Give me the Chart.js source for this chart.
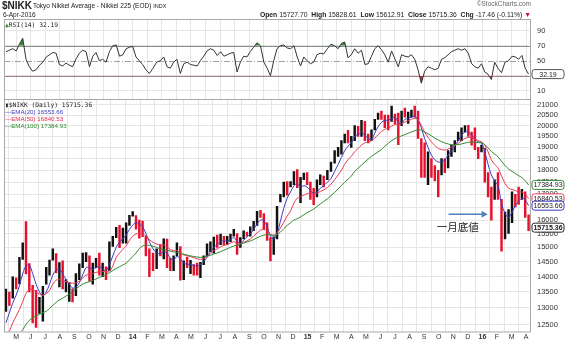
<!DOCTYPE html>
<html lang="ja">
<head>
<meta charset="UTF-8" />
<title>$NIKK Tokyo Nikkei Average</title>
<script src="https://cdn.jsdelivr.net/npm/chart.js"></script>
<style>
  body { margin: 0; background: #fff; }
  #page { position: relative; width: 565px; height: 342px; overflow: hidden; font-family: "Liberation Sans", Arial, sans-serif; color: #222; }
  canvas { position: absolute; left: 0; top: 0; }
  .t { position: absolute; white-space: nowrap; line-height: 1; }
  .mono { font-family: "DejaVu Sans Mono", monospace; }
</style>
</head>
<body>
<div id="page">
  <canvas id="rsi" width="565" height="342"></canvas>
  <canvas id="price" width="565" height="342"></canvas>

  <!-- header -->
  <div class="t" style="left:2px;top:1px;font-size:10px;font-weight:bold">$NIKK</div>
  <div class="t" style="left:33px;top:3px;font-size:6.5px">Tokyo Nikkei Average - Nikkei 225 (EOD) <span style="font-size:5.5px">INDX</span></div>
  <div class="t" style="left:3px;top:12px;font-size:6.5px">6-Apr-2016</div>
  <div class="t" style="right:34px;top:1px;font-size:6.5px;color:#666">&copy;StockCharts.com</div>
  <div class="t" style="right:34px;top:12px;font-size:6.8px"><b>Open</b> 15727.70 &nbsp;<b>High</b> 15828.61 &nbsp;<b>Low</b> 15612.91 &nbsp;<b>Close</b> 15715.36 &nbsp;<b>Chg</b> -17.46 (-0.11%) <span style="color:#c8102e">&#9660;</span></div>

  <!-- legends -->
  <div class="t mono" style="left:5px;top:22px;font-size:6.3px"><span style="color:#3d8b3d">&#9650;</span>RSI(14) 32.19</div>
  <div class="t mono" style="left:5px;top:102px;font-size:6.3px">&#9646;$NIKK (Daily) 15715.36</div>
  <div class="t" style="left:5px;top:109px;font-size:6.2px;color:#3b3bc4">&mdash;EMA(20) 16553.66</div>
  <div class="t" style="left:5px;top:116px;font-size:6.2px;color:#e03050">&mdash;EMA(50) 16840.53</div>
  <div class="t" style="left:5px;top:123px;font-size:6.2px;color:#2f8a2f">&mdash;EMA(100) 17384.93</div>
</div>

<script>
  // one bar per week, first week centred on Wed 10-Apr-2013, last on Wed 6-Apr-2016
  const firstWeek = "2013-04-10";
  const axisStart = "2013-04-06";
  const axisEnd = "2016-04-11";

  const weekHigh = [
    13590, 13500, 13990, 13960, 14650, 15160, 15942, 14440, 13710, 13550,
    13330, 13680, 14310, 14560, 14950, 14780, 14470, 14530, 13900, 13800,
    13600, 14100, 14430, 14800, 14820, 14700, 14450, 14620, 14800, 14450,
    14330, 15200, 15400, 15730, 15800, 15700, 15900, 16180, 16320, 16170,
    16000, 15960, 15400, 14950, 14800, 14950, 15100, 15310, 15300, 14620,
    14700, 15160, 15030, 14530, 14650, 14550, 14400, 14450, 14480, 14700,
    15130, 15200, 15370, 15440, 15480, 15400, 15400, 15480, 15650, 15500,
    15350, 15600, 15550, 15750, 15950, 16330, 16374, 16250, 15900, 15350,
    15380, 16530, 17000, 17500, 17520, 17520, 17940, 18030, 17700, 17880,
    17900, 17500, 17250, 17600, 17800, 17750, 18000, 18350, 18850, 19000,
    19300, 19600, 19780, 19500, 20000, 19970, 20250, 20200, 19600, 19800,
    20300, 20600, 20700, 20500, 20500, 20950, 20550, 20600, 20700, 20850,
    20650, 20750, 20950, 20700, 19400, 19200, 18800, 18500, 18200, 18000,
    18500, 18500, 18850, 19100, 19300, 19700, 19900, 20000, 20012, 19700,
    19900, 19000, 19100, 18950, 17900, 17300, 17600, 17900, 16800, 16300,
    16400, 17100, 17000, 17300, 17200, 17100, 16200
  ];
  const weekLow = [
    12890, 13080, 13300, 13600, 13760, 14580, 14090, 13500, 12550, 12415,
    12830, 12600, 13750, 14050, 14550, 14120, 13660, 13600, 13500, 13200,
    13190, 13380, 13900, 14300, 14500, 13850, 13750, 14300, 14050, 14000,
    13900, 14200, 15030, 15350, 14990, 15150, 15150, 15800, 16150, 15660,
    15330, 15380, 14700, 13995, 14200, 14260, 14700, 14600, 14300, 14200,
    14200, 14700, 13885, 13900, 14300, 14100, 14050, 14050, 13960, 14400,
    14700, 14850, 14800, 15000, 15100, 15100, 15100, 15200, 15400, 14750,
    15000, 15300, 15400, 15400, 15600, 15800, 16100, 15650, 15250, 14530,
    14750, 15300, 16700, 16900, 16970, 17300, 17400, 17270, 16670, 17600,
    17400, 16800, 16590, 16900, 17400, 17300, 17600, 17950, 18300, 18600,
    18700, 19200, 19200, 19000, 19300, 19500, 19500, 19300, 19200, 19300,
    19800, 20300, 20300, 19900, 19800, 20200, 20090, 19115, 20000, 20400,
    20100, 20400, 20400, 19400, 17700, 17700, 17400, 17700, 17550, 16900,
    17800, 17900, 18100, 18600, 18800, 19300, 19300, 19700, 19500, 19100,
    18900, 18500, 18800, 17500, 16900, 16000, 16800, 16800, 14865, 15300,
    15500, 15900, 16500, 16600, 16800, 16100, 15600
  ];
  const weekClose = [
    13485, 13317, 13884, 13694, 14608, 15138, 14612, 13774, 12877, 12686,
    13230, 13677, 14310, 14506, 14590, 14130, 14466, 13605, 13650, 13660,
    13389, 13861, 14404, 14742, 14760, 14024, 14404, 14562, 14088, 14201,
    14086, 15165, 15381, 15661, 15299, 15403, 15870, 16178, 16291, 15912,
    15734, 15391, 14914, 14462, 14313, 14865, 14841, 15274, 14327, 14224,
    14696, 15063, 13960, 14516, 14429, 14457, 14199, 14097, 14462, 14632,
    15077, 15097, 15349, 15095, 15437, 15164, 15215, 15457, 15523, 14778,
    15318, 15539, 15425, 15668, 15948, 16321, 16229, 15709, 15300, 14532,
    15291, 16413, 16880, 17490, 17357, 17459, 17920, 17371, 17621, 17818,
    17450, 17197, 16864, 17511, 17674, 17648, 17913, 18332, 18798, 18971,
    19254, 19560, 19286, 19435, 19908, 19653, 20020, 19532, 19380, 19733,
    20264, 20563, 20461, 20407, 19990, 20706, 20539, 19780, 20650, 20544,
    20585, 20724, 20519, 19436, 19136, 17792, 18264, 18070, 17880, 17725,
    18438, 18291, 18825, 19083, 19265, 19597, 19880, 19884, 19504, 19230,
    18986, 18770, 19034, 17698, 17147, 16958, 17518, 16819, 14952, 15967,
    16188, 17015, 16939, 16725, 17002, 16164, 15715.36
  ];
  const ema20 = [
    12550, 12850, 13150, 13400, 13700, 14100, 14350, 14380, 14100, 13750,
    13500, 13380, 13500, 13750, 14050, 14220, 14250, 14100, 13900, 13750,
    13630, 13650, 13800, 14050, 14300, 14300, 14250, 14300, 14330, 14250,
    14200, 14400, 14700, 15000, 15200, 15300, 15450, 15650, 15810, 15900,
    15850, 15750, 15500, 15200, 14950, 14800, 14780, 14850, 14800, 14620,
    14560, 14680, 14600, 14450, 14420, 14400, 14380, 14350, 14400, 14500,
    14650, 14850, 15000, 15100, 15200, 15230, 15220, 15270, 15350, 15220,
    15150, 15250, 15380, 15480, 15650, 15850, 16000, 15980, 15750, 15400,
    15300, 15500, 15950, 16450, 16850, 17100, 17350, 17430, 17300, 17350,
    17300, 17150, 17050, 17100, 17250, 17350, 17500, 17650, 17950, 18250,
    18550, 18850, 19050, 19200, 19500, 19580, 19700, 19550, 19400, 19350,
    19650, 19950, 20150, 20250, 20250, 20350, 20400, 20150, 20100, 20300,
    20350, 20400, 20450, 20250, 19900, 19400, 19000, 18650, 18450, 18350,
    18350, 18450, 18650, 18850, 19050, 19300, 19550, 19700, 19700, 19550,
    19400, 19250, 19200, 18800, 18250, 17800, 17550, 17350, 16650, 16250,
    16100, 16300, 16550, 16720, 16850, 16780, 16553.66
  ];
  const ema50 = [
    12100, 12300, 12550, 12750, 12950, 13200, 13450, 13580, 13580, 13500,
    13430, 13400, 13450, 13550, 13750, 13880, 13900, 13880, 13830, 13800,
    13780, 13790, 13850, 13950, 14050, 14080, 14100, 14140, 14160, 14170,
    14160, 14180, 14350, 14650, 14800, 14930, 15050, 15250, 15400, 15480,
    15500, 15480, 15420, 15280, 15180, 15120, 15080, 15080, 15020, 14930,
    14880, 14890, 14800, 14740, 14700, 14680, 14640, 14600, 14580, 14600,
    14680, 14780, 14880, 14950, 15020, 15070, 15100, 15150, 15200, 15150,
    15140, 15180, 15230, 15300, 15400, 15520, 15620, 15650, 15600, 15480,
    15440, 15520, 15700, 15920, 16150, 16350, 16650, 16850, 16900, 16970,
    17030, 17050, 17020, 17050, 17120, 17180, 17280, 17420, 17600, 17800,
    18000, 18250, 18450, 18600, 18800, 18950, 19100, 19200, 19250, 19300,
    19420, 19580, 19720, 19830, 19880, 19970, 20050, 20030, 20080, 20170,
    20230, 20300, 20350, 20280, 20000, 19700, 19450, 19250, 19080, 18950,
    18900, 18880, 18920, 19000, 19080, 19180, 19300, 19400, 19450, 19430,
    19380, 19300, 19250, 19100, 18800, 18450, 18250, 18100, 17750, 17450,
    17250, 17200, 17150, 17100, 17100, 17000, 16840.53
  ];
  const ema100 = [
    11600, 11750, 11900, 12050, 12200, 12350, 12500, 12620, 12700, 12760,
    12800, 12850, 12900, 12980, 13080, 13170, 13250, 13300, 13370, 13430,
    13500, 13600, 13680, 13750, 13800, 13830, 13870, 13920, 13970, 14020,
    14060, 14130, 14200, 14270, 14330, 14390, 14450, 14560, 14680, 14800,
    14950, 15050, 15080, 15070, 15040, 15000, 14950, 14920, 14900, 14870,
    14840, 14820, 14790, 14760, 14730, 14700, 14680, 14660, 14650, 14660,
    14690, 14720, 14770, 14800, 14850, 14900, 14950, 15000, 15050, 15080,
    15110, 15150, 15190, 15230, 15280, 15340, 15400, 15440, 15460, 15440,
    15430, 15460, 15550, 15680, 15800, 15900, 16000, 16050, 16120, 16200,
    16280, 16350, 16420, 16520, 16620, 16720, 16820, 16950, 17080, 17220,
    17360, 17500, 17620, 17750, 17950, 18080, 18220, 18350, 18480, 18600,
    18700, 18800, 18900, 19050, 19180, 19300, 19400, 19460, 19520, 19580,
    19640, 19700, 19760, 19800, 19790, 19700, 19620, 19520, 19420, 19330,
    19260, 19200, 19150, 19120, 19110, 19120, 19150, 19190, 19230, 19240,
    19230, 19210, 19200, 19120, 18980, 18820, 18700, 18580, 18380, 18200,
    18050, 17950, 17860, 17770, 17690, 17560, 17384.93
  ];
  const rsi14 = [
    62, 64, 66, 63, 72, 80, 52, 42, 36, 38,
    44, 48, 55, 58, 61, 60, 45, 43, 47, 44,
    42, 52, 60, 64, 62, 42, 56, 61, 50, 52,
    48, 62, 70, 71, 56, 58, 66, 68, 69, 55,
    50, 45, 38, 33, 40, 48, 50, 55, 42, 40,
    48, 52, 33, 46, 48, 45, 44, 43, 50, 56,
    63, 66, 64, 57, 62, 56, 58, 60, 61, 35,
    48, 56, 55, 62, 68, 74, 70, 48, 40, 30,
    50, 66, 70, 71, 67, 66, 70, 55, 43, 55,
    50, 46, 48, 58, 60, 59, 66, 72, 70, 66,
    73, 75, 54, 58, 66, 60, 64, 45, 46, 56,
    66, 70, 65, 58, 48, 63, 52, 42, 58, 56,
    55, 58, 52, 38, 20, 36, 42, 40, 38, 40,
    52, 54, 58, 62, 64, 66, 64, 66, 60, 46,
    42, 40, 46, 35, 32, 25, 48, 40, 34, 48,
    50, 56, 55, 52, 57, 40, 32.19
  ];
  const priceTicks = [12500, 13000, 13500, 14000, 14500, 15000, 15500, 16000, 16500,
    17000, 17500, 18000, 18500, 19000, 19500, 20000, 20500, 21000];
  const rsiTicks = [10, 30, 50, 70, 90];
  const monthLetters = ["J", "F", "M", "A", "M", "J", "J", "A", "S", "O", "N", "D"];

  // note text
  const noteText = "一月底値";
  const arrowFrom = ["2015-10-22", 16220];
  const arrowTo = ["2016-01-12", 16220];
  const noteAt = ["2015-11-10", 15730];

  const RED = "#e8112d", BLUE = "#3b3bc4", PINK = "#e83a55", GREEN = "#2f8a2f", GRID = "#e6e6e6";

  function toDate(s) { return new Date(s + "T00:00:00Z"); }
  // months since Jan 2013, fractional
  function monthPos(d) {
    const y = d.getUTCFullYear(), m = d.getUTCMonth();
    const dim = new Date(Date.UTC(y, m + 1, 0)).getUTCDate();
    return (y - 2013) * 12 + m + (d.getUTCDate() - 1) / dim;
  }
  const start = toDate(firstWeek);
  const weekPos = weekClose.map((_, i) => {
    const d = new Date(start.getTime());
    d.setUTCDate(d.getUTCDate() + 7 * i);
    return monthPos(d);
  });
  const X_MIN = monthPos(toDate(axisStart));
  const X_MAX = monthPos(toDate(axisEnd));

  function monthTicks(scale) {
    const t = [];
    for (let m = Math.ceil(X_MIN); m <= X_MAX; m++) t.push({ value: m });
    scale.ticks = t;
  }
  function monthLabel(v) {
    return v % 12 === 0 ? String(13 + v / 12) : monthLetters[v % 12];
  }

  const barColors = weekClose.map((c, i) => (i > 0 && c < weekClose[i - 1] ? RED : "#111"));
  const pts = (arr) => weekPos.map((x, i) => ({ x: x, y: arr[i] }));

  function roundBox(ctx, x, y, w, h, r) {
    ctx.beginPath();
    ctx.moveTo(x + r, y);
    ctx.arcTo(x + w, y, x + w, y + h, r);
    ctx.arcTo(x + w, y + h, x, y + h, r);
    ctx.arcTo(x, y + h, x, y, r);
    ctx.arcTo(x, y, x + w, y, r);
    ctx.closePath();
  }
  function valueBox(ctx, py, text, color, bold) {
    ctx.save();
    roundBox(ctx, 532, py - 4.5, 32, 9, 2.5);
    ctx.fillStyle = "#fff";
    ctx.fill();
    ctx.lineWidth = 1;
    ctx.strokeStyle = color;
    ctx.stroke();
    ctx.fillStyle = "#222";
    ctx.font = (bold ? "bold " : "") + "7px 'Liberation Sans'";
    ctx.textBaseline = "middle";
    ctx.textAlign = "center";
    ctx.fillText(text, 548, py + 0.5);
    ctx.restore();
  }

  const frame = {
    id: "frame",
    afterDraw(chart) {
      const { ctx, chartArea: a } = chart;
      ctx.save();
      ctx.strokeStyle = "#a8a8a8";
      ctx.lineWidth = 1;
      ctx.strokeRect(a.left + 0.5, a.top + 0.5, a.right - a.left - 1, a.bottom - a.top);
      ctx.restore();
    }
  };

  const rsiExtras = {
    id: "rsiExtras",
    beforeDatasetsDraw(chart) {
      const { ctx, chartArea: a, scales: { y } } = chart;
      ctx.save();
      ctx.strokeStyle = "#8c8c8c";
      ctx.lineWidth = 1;
      [30, 70].forEach((v) => {
        const py = Math.round(y.getPixelForValue(v)) + 0.5;
        ctx.beginPath(); ctx.moveTo(a.left, py); ctx.lineTo(a.right, py); ctx.stroke();
      });
      ctx.strokeStyle = "#a0a0a0";
      ctx.setLineDash([6, 2, 1, 2]);
      const p50 = Math.round(y.getPixelForValue(50)) + 0.5;
      ctx.beginPath(); ctx.moveTo(a.left, p50); ctx.lineTo(a.right, p50); ctx.stroke();
      ctx.restore();
    },
    afterDraw(chart) {
      const last = rsi14[rsi14.length - 1];
      valueBox(chart.ctx, chart.scales.y.getPixelForValue(last), last.toFixed(2), "#555", false);
    }
  };

  const priceExtras = {
    id: "priceExtras",
    afterDraw(chart) {
      const { ctx, scales: { x, y } } = chart;
      const last = (arr) => arr[arr.length - 1];
      valueBox(ctx, y.getPixelForValue(last(ema100)), last(ema100).toFixed(2), GREEN, false);
      valueBox(ctx, y.getPixelForValue(last(ema50)), last(ema50).toFixed(2), PINK, false);
      valueBox(ctx, y.getPixelForValue(last(ema20)), last(ema20).toFixed(2), BLUE, false);
      valueBox(ctx, y.getPixelForValue(last(weekClose)), last(weekClose).toFixed(2), "#222", true);

      // arrow + note
      const x1 = x.getPixelForValue(monthPos(toDate(arrowFrom[0])));
      const x2 = x.getPixelForValue(monthPos(toDate(arrowTo[0])));
      const ya = y.getPixelForValue(arrowFrom[1]);
      ctx.save();
      ctx.strokeStyle = "#4f81bd";
      ctx.fillStyle = "#4f81bd";
      ctx.lineWidth = 1.6;
      ctx.beginPath(); ctx.moveTo(x1, ya); ctx.lineTo(x2 - 4, ya); ctx.stroke();
      ctx.beginPath(); ctx.moveTo(x2, ya); ctx.lineTo(x2 - 6, ya - 3.5); ctx.lineTo(x2 - 6, ya + 3.5); ctx.closePath(); ctx.fill();
      ctx.fillStyle = "#222";
      ctx.font = "10.5px 'Noto Sans CJK JP'";
      ctx.textAlign = "center";
      ctx.textBaseline = "middle";
      ctx.fillText(noteText, x.getPixelForValue(monthPos(toDate(noteAt[0]))), y.getPixelForValue(noteAt[1]));
      ctx.restore();
    }
  };

  Chart.defaults.font.family = "'Liberation Sans', Arial, sans-serif";
  Chart.defaults.color = "#333";

  // RSI panel
  new Chart(document.getElementById("rsi"), {
    type: "line",
    data: {
      datasets: [
        {
          data: pts(rsi14), borderColor: "#333", borderWidth: 1, pointRadius: 0, tension: 0,
          fill: { target: { value: 70 }, above: "#3d8b3d", below: "rgba(0,0,0,0)" }
        },
        {
          data: pts(rsi14), borderColor: "rgba(0,0,0,0)", borderWidth: 0, pointRadius: 0, tension: 0,
          fill: { target: { value: 30 }, above: "rgba(0,0,0,0)", below: "#d9263f" }
        }
      ]
    },
    options: {
      responsive: false, animation: false, events: [],
      layout: { padding: { left: 4, top: 19, right: 0, bottom: 243 } },
      plugins: { legend: { display: false }, tooltip: { enabled: false } },
      scales: {
        x: {
          type: "linear", min: X_MIN, max: X_MAX, afterBuildTicks: monthTicks,
          ticks: { display: false }, grid: { color: GRID, drawTicks: false }, border: { display: false },
          afterFit(s) { s.height = 0; }
        },
        y: {
          position: "right", min: -1, max: 105.6,
          afterBuildTicks(s) { s.ticks = rsiTicks.map((v) => ({ value: v })); },
          ticks: { padding: 6, font: { size: 7.5 }, color: "#333" },
          grid: { drawTicks: false, color: (c) => (c.tick && (c.tick.value === 10 || c.tick.value === 90) ? GRID : "rgba(0,0,0,0)") },
          border: { display: false },
          afterFit(s) { s.width = 34; }
        }
      }
    },
    plugins: [rsiExtras, frame]
  });

  // price panel
  new Chart(document.getElementById("price"), {
    type: "bar",
    data: {
      datasets: [
        { type: "line", data: pts(ema100), borderColor: GREEN, borderWidth: 1, pointRadius: 0, tension: 0.35, order: 1 },
        { type: "line", data: pts(ema50), borderColor: PINK, borderWidth: 1, pointRadius: 0, tension: 0.35, order: 1 },
        { type: "line", data: pts(ema20), borderColor: BLUE, borderWidth: 1, pointRadius: 0, tension: 0.35, order: 1 },
        {
          type: "bar", data: weekPos.map((x, i) => ({ x: x, y: [weekLow[i], weekHigh[i]] })),
          backgroundColor: barColors, barThickness: 1.8, grouped: false, order: 2
        }
      ]
    },
    options: {
      responsive: false, animation: false, events: [],
      layout: { padding: { left: 4, top: 99, right: 0, bottom: 0 } },
      plugins: { legend: { display: false }, tooltip: { enabled: false } },
      scales: {
        x: {
          type: "linear", min: X_MIN, max: X_MAX, offset: false, afterBuildTicks: monthTicks,
          ticks: {
            autoSkip: false, maxRotation: 0, padding: 1, color: "#333",
            font: (c) => ({ size: 7, weight: c.tick && c.tick.value % 12 === 0 ? "bold" : "normal" }),
            callback: (v) => monthLabel(v)
          },
          grid: { color: GRID, drawTicks: false }, border: { display: false },
          afterFit(s) { s.height = 9; }
        },
        y: {
          type: "logarithmic", position: "right", min: 12296, max: 21298,
          afterBuildTicks(s) { s.ticks = priceTicks.map((v) => ({ value: v })); },
          ticks: { padding: 6, font: { size: 7.5 }, color: "#333", callback: (v) => String(v) },
          grid: { drawTicks: false, color: GRID }, border: { display: false },
          afterFit(s) { s.width = 34; }
        }
      }
    },
    plugins: [priceExtras, frame]
  });
</script>
</body>
</html>
